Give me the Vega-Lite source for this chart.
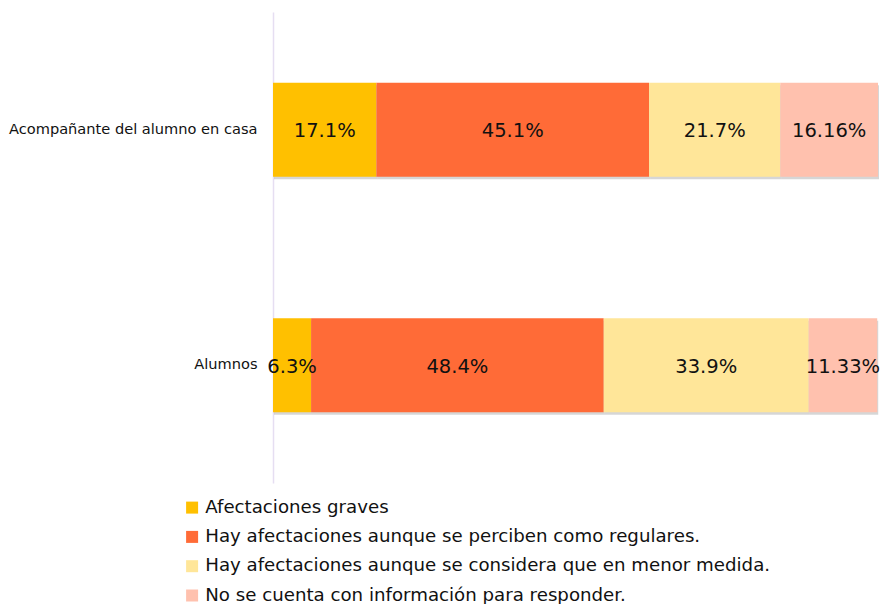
{
  "$schema": "https://vega.github.io/schema/vega-lite/v6.json",
  "width": 605,
  "height": 471,
  "autosize": {"type": "none"},
  "padding": {"left": 273, "top": 12, "right": 4, "bottom": 121},
  "background": "white",
  "config": {"view": {"stroke": null}, "font": "DejaVu Sans"},
  "data": {
    "values": [
      {"grupo": "Acompañante del alumno en casa", "categoria": "Afectaciones graves", "orden": 1, "valor": 17.1},
      {"grupo": "Acompañante del alumno en casa", "categoria": "Hay afectaciones aunque se perciben como regulares.", "orden": 2, "valor": 45.1},
      {"grupo": "Acompañante del alumno en casa", "categoria": "Hay afectaciones aunque se considera que en menor medida.", "orden": 3, "valor": 21.7},
      {"grupo": "Acompañante del alumno en casa", "categoria": "No se cuenta con información para responder.", "orden": 4, "valor": 16.16},
      {"grupo": "Alumnos", "categoria": "Afectaciones graves", "orden": 1, "valor": 6.3},
      {"grupo": "Alumnos", "categoria": "Hay afectaciones aunque se perciben como regulares.", "orden": 2, "valor": 48.4},
      {"grupo": "Alumnos", "categoria": "Hay afectaciones aunque se considera que en menor medida.", "orden": 3, "valor": 33.9},
      {"grupo": "Alumnos", "categoria": "No se cuenta con información para responder.", "orden": 4, "valor": 11.33}
    ]
  },
  "transform": [
    {"calculate": "format(datum.valor, '.2~f') + '%'", "as": "etiqueta"}
  ],
  "encoding": {
    "y": {
      "field": "grupo", "type": "nominal", "sort": null, "title": null,
      "scale": {"paddingInner": 0.6, "paddingOuter": 0.3},
      "axis": {"domainColor": "#E6DEF2", "domainWidth": 1.5, "ticks": false, "labelPadding": 16, "labelFontSize": 14.6, "labelLimit": 400, "labelColor": "#111111", "labelFont": "DejaVu Sans"}
    },
    "x": {
      "field": "valor", "type": "quantitative", "stack": "zero",
      "scale": {"domain": [0, 100.06], "nice": false, "zero": true},
      "axis": null
    },
    "order": {"field": "orden", "type": "quantitative"}
  },
  "layer": [
    {
      "mark": {"type": "bar", "color": "#777", "opacity": 0.3, "yOffset": 2.5, "xOffset": 1},
      "encoding": {}
    },
    {
      "mark": {"type": "bar"},
      "encoding": {
        "color": {
          "field": "categoria", "type": "nominal",
          "scale": {
            "domain": ["Afectaciones graves", "Hay afectaciones aunque se perciben como regulares.", "Hay afectaciones aunque se considera que en menor medida.", "No se cuenta con información para responder."],
            "range": ["#FFC000", "#FF6B37", "#FFE699", "#FFC1AE"]
          },
          "legend": {
            "title": null, "orient": "none", "legendX": -90, "legendY": 486.5,
            "direction": "vertical", "columns": 1, "gridAlign": "none",
            "symbolType": "square", "symbolSize": 144,
            "labelFontSize": 18.2, "labelColor": "#111111", "labelFont": "DejaVu Sans",
            "rowPadding": 10.3, "labelOffset": 4, "labelLimit": 0
          }
        }
      }
    },
    {
      "mark": {"type": "text", "fontSize": 19.5, "color": "#111111", "font": "DejaVu Sans", "dy": 1.5},
      "encoding": {
        "x": {"field": "valor", "type": "quantitative", "stack": "zero", "bandPosition": 0.5},
        "text": {"field": "etiqueta"}
      }
    }
  ]
}
